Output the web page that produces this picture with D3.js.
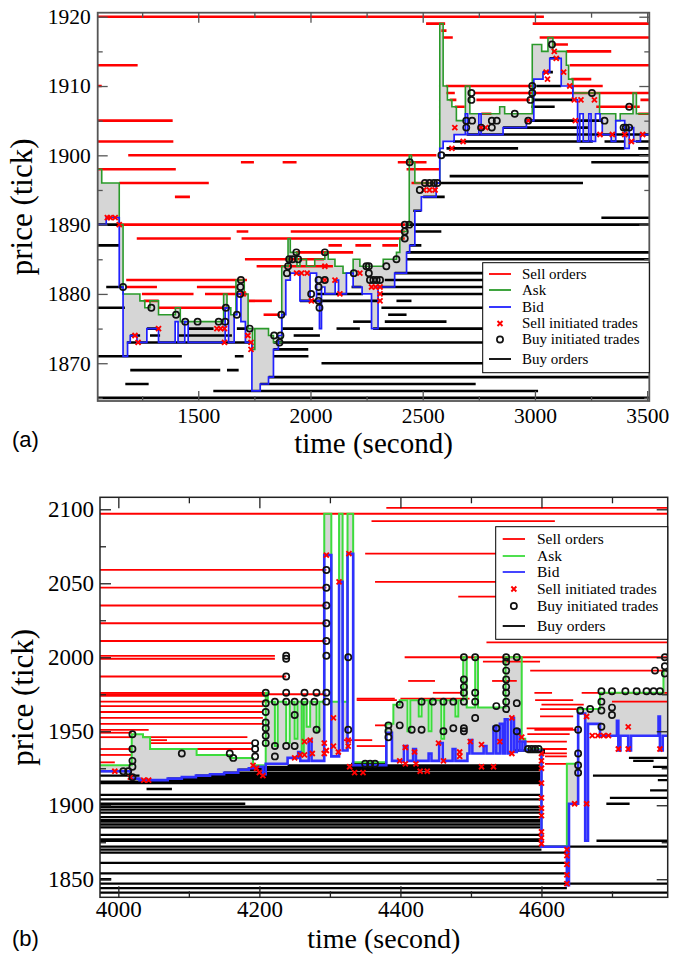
<!DOCTYPE html>
<html>
<head>
<meta charset="utf-8">
<script src="https://cdn.jsdelivr.net/npm/d3@7"></script>
<style>
  body { margin: 0; background: #fff; }
  svg { display: block; }
</style>
</head>
<body>
<svg id="chart" width="685" height="954"></svg>
<script>
// ---------- panel (a) data : [t0, t1, price] for orders, [t, price] for steps / trades ----------
const sellOrdersA = [
  [1052, 3040, 1920], [2990, 3510, 1919], [2515, 2600, 1919], [2583, 2606, 1918], [3021, 3510, 1917],
  [2590, 2634, 1917], [3080, 3147, 1916], [3140, 3340, 1915], [1052, 1230, 1913], [3155, 3510, 1913],
  [3162, 3251, 1911], [1052, 1070, 1910], [2603, 2990, 1910], [3168, 3302, 1910], [2606, 2643, 1909],
  [2732, 3510, 1909], [2620, 2650, 1908], [2739, 2977, 1908], [3470, 3510, 1908], [2643, 2687, 1907],
  [3273, 3467, 1907], [2761, 2806, 1906], [3460, 3510, 1906], [1052, 1386, 1905], [1052, 1389, 1902],
  [1188, 2561, 1900], [1690, 1748, 1899], [1876, 1938, 1899], [2389, 2517, 1899], [1052, 1400, 1898],
  [2428, 2576, 1898], [1148, 1547, 1896], [2450, 2567, 1896], [1396, 1463, 1894], [1151, 2421, 1890],
  [1671, 1723, 1889], [1912, 2420, 1889], [1226, 1645, 1888], [1693, 2420, 1888], [2080, 2140, 1887],
  [2200, 2270, 1887], [2320, 2390, 1887], [1935, 2190, 1886], [1708, 2060, 1885], [1760, 2100, 1884],
  [1179, 1717, 1882], [1178, 1316, 1881], [1494, 1672, 1881], [1249, 1479, 1880], [1530, 1717, 1880],
  [1257, 1324, 1879], [1724, 1828, 1879], [1323, 1628, 1878], [1791, 1864, 1877]
];
const buyOrdersA = [
  [1052, 3510, 1865], [1567, 3014, 1866], [1175, 1279, 1867], [1776, 2736, 1867], [1813, 3510, 1868],
  [1197, 1598, 1869], [1628, 1680, 1869], [2049, 3510, 1870], [1052, 1427, 1871], [1663, 1702, 1871],
  [1835, 1991, 1871], [1835, 1990, 1872], [1182, 1731, 1873], [1835, 3510, 1873], [1197, 1241, 1874],
  [1285, 1330, 1874], [1412, 1650, 1874], [1925, 2042, 1874], [1272, 1330, 1875], [1457, 1568, 1875],
  [1672, 1709, 1875], [1872, 2012, 1875], [2116, 2220, 1875], [2279, 3510, 1875], [2190, 2272, 1876],
  [2331, 2606, 1876], [2346, 2428, 1877], [1052, 1173, 1878], [2316, 3510, 1878], [1953, 2301, 1879],
  [2383, 2450, 1879], [2027, 2234, 1880], [2316, 3510, 1880], [1090, 1168, 1881], [2183, 2227, 1881],
  [2316, 3510, 1881], [2331, 3510, 1882], [2375, 3510, 1883], [2428, 3510, 1885], [2428, 3510, 1886],
  [1052, 1148, 1887], [2442, 2494, 1887], [1052, 1148, 1890], [2435, 3510, 1890], [2465, 2583, 1889],
  [3296, 3510, 1891], [2458, 2494, 1892], [2502, 2598, 1894], [2576, 3214, 1896], [2620, 3510, 1897],
  [3251, 3510, 1899], [2591, 3510, 1900], [2606, 2925, 1901], [3199, 3399, 1901], [3460, 3510, 1901],
  [2635, 3258, 1902], [3310, 3399, 1902], [3450, 3510, 1902], [2695, 3510, 1903], [2858, 3236, 1904],
  [2962, 3303, 1905], [2984, 3088, 1907], [2991, 3169, 1908], [3006, 3117, 1910], [3036, 3080, 1912],
  [3066, 3110, 1914]
];
const askA = [
  [1052, 1898], [1070, 1896], [1148, 1890], [1165, 1880], [1240, 1879], [1262, 1878], [1285, 1879],
  [1323, 1877], [1398, 1878], [1420, 1876], [1613, 1880], [1628, 1878], [1645, 1877], [1668, 1882],
  [1705, 1880], [1722, 1875], [1742, 1872], [1752, 1875], [1813, 1874], [1835, 1873], [1872, 1884],
  [1900, 1888], [1910, 1886], [1940, 1884], [1953, 1885], [1982, 1884], [2019, 1885], [2064, 1886],
  [2079, 1885], [2109, 1884], [2145, 1883], [2190, 1885], [2220, 1884], [2324, 1885], [2383, 1886],
  [2398, 1888], [2410, 1889], [2428, 1890], [2440, 1900], [2450, 1899], [2465, 1896], [2576, 1919],
  [2591, 1910], [2610, 1908], [2630, 1907], [2650, 1905], [2690, 1910], [2710, 1906], [2843, 1907],
  [2865, 1906], [2988, 1916], [3030, 1915], [3058, 1917], [3080, 1915], [3140, 1913], [3150, 1911],
  [3169, 1909], [3288, 1906], [3360, 1905], [3380, 1906], [3437, 1909], [3452, 1906], [3510, 1906]
];
const bidA = [
  [1052, 1890], [1090, 1891], [1148, 1881], [1165, 1871], [1185, 1873], [1197, 1874], [1227, 1873],
  [1271, 1875], [1323, 1873], [1397, 1876], [1410, 1873], [1440, 1876], [1455, 1873], [1620, 1878],
  [1635, 1873], [1660, 1877], [1672, 1880], [1690, 1876], [1710, 1873], [1739, 1866], [1776, 1867],
  [1813, 1868], [1835, 1872], [1857, 1874], [1872, 1877], [1890, 1882], [1910, 1883], [1953, 1879],
  [1998, 1883], [2027, 1879], [2040, 1875], [2049, 1881], [2064, 1880], [2110, 1882], [2125, 1880],
  [2160, 1883], [2190, 1881], [2230, 1880], [2272, 1875], [2301, 1881], [2375, 1883], [2428, 1886],
  [2442, 1887], [2465, 1892], [2494, 1894], [2560, 1896], [2576, 1901], [2591, 1902], [2640, 1903],
  [2690, 1906], [2700, 1903], [2750, 1906], [2760, 1903], [2858, 1904], [2962, 1905], [2995, 1911],
  [3036, 1912], [3066, 1914], [3117, 1910], [3169, 1908], [3190, 1902], [3200, 1906], [3215, 1902],
  [3240, 1906], [3250, 1902], [3270, 1906], [3290, 1905], [3300, 1903], [3340, 1902], [3360, 1905],
  [3400, 1901], [3420, 1904], [3440, 1902], [3470, 1903], [3510, 1903]
];
const buyTradesA = [
  [1165, 1881], [1291, 1878], [1401, 1877], [1442, 1876], [1497, 1876], [1591, 1876], [1620, 1876],
  [1623, 1878], [1672, 1877], [1687, 1880], [1688, 1881], [1690, 1882], [1729, 1875], [1838, 1874],
  [1862, 1873], [1866, 1874], [1870, 1877], [1895, 1883], [1900, 1884], [1905, 1885], [1920, 1885],
  [1937, 1886], [1945, 1885], [2003, 1880], [2036, 1881], [2036, 1882], [2036, 1879], [2040, 1878],
  [2064, 1886], [2064, 1882], [2193, 1883], [2249, 1884], [2260, 1884], [2260, 1883], [2265, 1882],
  [2280, 1882], [2295, 1882], [2310, 1882], [2338, 1884], [2383, 1885], [2420, 1888], [2420, 1889],
  [2420, 1890], [2440, 1890], [2442, 1899], [2487, 1895], [2510, 1896], [2530, 1896], [2550, 1896],
  [2565, 1896], [2583, 1900], [2694, 1905], [2694, 1904], [2717, 1909], [2717, 1908], [2720, 1905],
  [2760, 1904], [2808, 1905], [2808, 1904], [2830, 1905], [2910, 1906], [2970, 1905], [2988, 1910],
  [2988, 1909], [2980, 1908], [3076, 1916], [3254, 1909], [3310, 1905], [3395, 1904], [3405, 1904],
  [3420, 1907], [3420, 1904]
];
const sellTradesA = [
  [1095, 1891], [1108, 1891], [1130, 1891], [1148, 1890], [1218, 1874], [1232, 1873], [1323, 1875],
  [1583, 1875], [1600, 1875], [1617, 1875], [1617, 1873], [1700, 1880], [1721, 1874], [1735, 1873],
  [1735, 1872], [1938, 1883], [1960, 1883], [1985, 1883], [2004, 1879], [2064, 1884], [2064, 1882],
  [2109, 1882], [2131, 1880], [2220, 1883], [2272, 1881], [2290, 1881], [2310, 1881], [2310, 1880],
  [2310, 1879], [2505, 1895], [2530, 1895], [2555, 1895], [2630, 1901], [2643, 1904], [2680, 1902],
  [2760, 1904], [2780, 1904], [2970, 1905], [3056, 1911], [3050, 1912], [3086, 1915], [3095, 1914],
  [3128, 1912], [3155, 1910], [3175, 1908], [3205, 1908], [3265, 1908], [3180, 1905], [3290, 1903],
  [3345, 1903], [3400, 1903], [3430, 1902], [3480, 1903]
];
const xTicksA = [1500, 2000, 2500, 3000, 3500];
const xMinorA = [1250, 1750, 2250, 2750, 3250];
const yTicksA = [1870, 1880, 1890, 1900, 1910, 1920];
const yMinorA = [1865, 1875, 1885, 1895, 1905, 1915];

// ---------- panel (b) data ----------
const sellOrdersB = [
  [3974, 4780, 2097], [4380, 4780, 2101], [4359, 4619, 2092], [4350, 4780, 2070], [3974, 4295, 2059],
  [4364, 4780, 2051], [3974, 4295, 2047], [4482, 4780, 2041], [3974, 4295, 2035], [3974, 4295, 2023],
  [3974, 4295, 2011], [4522, 4780, 2010], [3974, 4222, 2001], [4406, 4780, 2000], [3974, 4222, 1999],
  [4517, 4598, 1997], [4584, 4780, 1991], [3974, 4238, 1987], [4411, 4449, 1984], [4530, 4565, 1984],
  [3974, 4208, 1976], [4446, 4489, 1976], [4590, 4615, 1976], [4657, 4780, 1976], [3974, 4295, 1975],
  [3974, 4208, 1974], [4338, 4392, 1972], [4400, 4498, 1972], [3974, 4210, 1970], [4338, 4395, 1971],
  [4591, 4645, 1971], [4700, 4780, 1970], [4600, 4660, 1968], [3974, 4205, 1967], [4598, 4650, 1965],
  [3974, 4205, 1963], [4598, 4645, 1960], [3974, 4205, 1959], [3974, 4205, 1955], [4364, 4380, 1954],
  [4579, 4645, 1952], [3974, 4043, 1951], [4590, 4650, 1951], [3974, 4019, 1949], [4580, 4640, 1948],
  [3974, 4019, 1946], [4035, 4183, 1946], [4045, 4069, 1944], [4320, 4360, 1944], [4565, 4636, 1943],
  [4045, 4191, 1942], [4338, 4380, 1940], [3974, 4019, 1938], [4111, 4191, 1938], [4580, 4636, 1938],
  [4600, 4636, 1935], [3974, 4019, 1934], [4605, 4636, 1933], [3974, 3995, 1929], [4605, 4636, 1928]
];
const buyOrdersB = [
  [3974, 4780, 1841], [3974, 4636, 1844], [3974, 4780, 1847], [3974, 3990, 1850], [3974, 4636, 1854],
  [3974, 4636, 1861], [3974, 4636, 1868], [3974, 4600, 1870], [3974, 4780, 1872], [3974, 4598, 1876],
  [4678, 4780, 1876], [3974, 4598, 1877], [3974, 4598, 1880], [3974, 4598, 1885], [3974, 4598, 1887],
  [3974, 4598, 1889], [3974, 4598, 1890], [3974, 4598, 1892], [3974, 4598, 1895], [3974, 4598, 1897],
  [3974, 4598, 1899], [3974, 4180, 1901], [4692, 4725, 1901], [3974, 4598, 1904], [4697, 4780, 1905],
  [3974, 4598, 1907], [4040, 4076, 1911], [4754, 4780, 1910], [3974, 4598, 1915], [3974, 4598, 1916],
  [4043, 4598, 1917], [4765, 4780, 1917], [4070, 4598, 1918], [4090, 4598, 1919], [3974, 4030, 1920],
  [4110, 4598, 1920], [4673, 4780, 1920], [4130, 4598, 1921], [4150, 4598, 1922], [3974, 4017, 1923],
  [4170, 4598, 1924], [4185, 4598, 1925], [4195, 4598, 1926], [4758, 4780, 1926], [4240, 4598, 1927],
  [4330, 4380, 1928], [4730, 4759, 1930], [4724, 4780, 1932], [4580, 4605, 1936], [4560, 4605, 1937]
];
const askB = [
  [3974, 1927], [4019, 1948], [4035, 1946], [4045, 1938], [4111, 1934], [4158, 1932], [4191, 1927],
  [4209, 1976], [4212, 1970], [4222, 1940], [4226, 1970], [4238, 1942], [4243, 1970], [4250, 1945],
  [4254, 1970], [4260, 1935], [4263, 1970], [4267, 1953], [4272, 1970], [4281, 1950], [4285, 1970],
  [4292, 2097], [4302, 1970], [4313, 2097], [4318, 1970], [4325, 2097], [4333, 1929], [4380, 1955],
  [4390, 1968], [4399, 1971], [4410, 1950], [4414, 1971], [4426, 1960], [4430, 1971], [4440, 1950],
  [4444, 1971], [4458, 1945], [4462, 1971], [4478, 1960], [4482, 1971], [4489, 2000], [4494, 1966],
  [4506, 2000], [4510, 1966], [4549, 2000], [4572, 1945], [4577, 1938], [4600, 1872], [4636, 1928],
  [4652, 1965], [4683, 1976], [4773, 1991], [4780, 1991]
];
const bidB = [
  [3974, 1923], [4017, 1918], [4030, 1917], [4070, 1918], [4090, 1919], [4110, 1920], [4130, 1921],
  [4150, 1922], [4170, 1924], [4185, 1925], [4195, 1926], [4205, 1921], [4209, 1928], [4240, 1932],
  [4255, 1936], [4258, 1930], [4270, 1944], [4274, 1930], [4292, 2069], [4302, 1933], [4313, 2051],
  [4318, 1937], [4325, 2070], [4333, 1927], [4380, 1949], [4388, 1930], [4405, 1940], [4410, 1930],
  [4418, 1938], [4422, 1930], [4440, 1935], [4444, 1930], [4455, 1942], [4460, 1930], [4474, 1938],
  [4478, 1930], [4495, 1935], [4498, 1944], [4502, 1935], [4518, 1940], [4522, 1935], [4532, 1953],
  [4536, 1935], [4541, 1955], [4545, 1935], [4548, 1958], [4552, 1935], [4557, 1959], [4561, 1936],
  [4565, 1951], [4569, 1937], [4573, 1943], [4577, 1937], [4600, 1872], [4636, 1846], [4639, 1901],
  [4652, 1962], [4662, 1876], [4666, 1955], [4683, 1947], [4707, 1957], [4709, 1937], [4712, 1947],
  [4723, 1937], [4727, 1947], [4766, 1960], [4768, 1937], [4772, 1947], [4780, 1947]
];
const buyTradesB = [
  [4007, 1923], [4014, 1923], [4020, 1919], [4020, 1948], [4020, 1938], [4020, 1930], [4020, 1926],
  [4090, 1935], [4158, 1935], [4163, 1932], [4194, 1942], [4194, 1938], [4194, 1933], [4209, 1976],
  [4209, 1969], [4209, 1963], [4209, 1956], [4209, 1952], [4209, 1947], [4209, 1942], [4222, 1970],
  [4222, 1940], [4222, 1933], [4238, 2001], [4238, 1999], [4238, 1987], [4238, 1976], [4238, 1970],
  [4238, 1940], [4250, 1970], [4250, 1961], [4250, 1940], [4264, 1976], [4264, 1970], [4278, 1970],
  [4281, 1976], [4281, 1951], [4295, 2059], [4295, 2047], [4295, 2035], [4295, 2023], [4295, 2011],
  [4295, 2001], [4295, 1976], [4295, 1970], [4326, 2000], [4326, 1951], [4350, 1928], [4357, 1928],
  [4364, 1928], [4383, 1954], [4383, 1950], [4383, 1946], [4399, 1968], [4399, 1954], [4416, 1951],
  [4430, 1970], [4430, 1951], [4446, 1970], [4461, 1970], [4461, 1950], [4475, 1970], [4475, 1952],
  [4490, 2000], [4490, 1985], [4490, 1980], [4490, 1976], [4490, 1970], [4490, 1952], [4490, 1950],
  [4506, 2000], [4506, 1976], [4506, 1970], [4506, 1959], [4536, 1967], [4536, 1952], [4550, 2000],
  [4550, 1997], [4550, 1991], [4550, 1985], [4550, 1980], [4550, 1976], [4550, 1970], [4550, 1965],
  [4565, 2000], [4565, 1969], [4565, 1950], [4581, 1938], [4586, 1938], [4591, 1938], [4596, 1938],
  [4652, 1951], [4652, 1935], [4652, 1927], [4652, 1922], [4655, 1964], [4669, 1965], [4685, 1977],
  [4685, 1970], [4685, 1964], [4685, 1953], [4700, 1977], [4700, 1966], [4700, 1961], [4719, 1977],
  [4735, 1977], [4749, 1977], [4759, 1977], [4768, 1977], [4761, 1991], [4775, 2000], [4775, 1994],
  [4775, 1989]
];
const sellTradesB = [
  [3995, 1923], [4017, 1919], [4036, 1917], [4043, 1917], [4191, 1927], [4196, 1925], [4200, 1922],
  [4205, 1920], [4250, 1932], [4258, 1934], [4264, 1943], [4264, 1934], [4272, 1944], [4275, 1935],
  [4292, 1942], [4292, 1935], [4295, 2069], [4295, 1937], [4305, 1959], [4305, 1940], [4313, 2051],
  [4312, 1936], [4327, 2070], [4326, 1944], [4326, 1940], [4328, 1926], [4335, 1922], [4347, 1922],
  [4399, 1930], [4407, 1939], [4407, 1928], [4420, 1936], [4422, 1928], [4428, 1923], [4438, 1923],
  [4454, 1942], [4461, 1930], [4484, 1933], [4484, 1936], [4499, 1943], [4515, 1941], [4515, 1926],
  [4532, 1926], [4541, 1943], [4558, 1959], [4558, 1935], [4572, 1946], [4600, 1935], [4600, 1930],
  [4600, 1925], [4600, 1915], [4600, 1905], [4600, 1898], [4600, 1893], [4600, 1882], [4600, 1878],
  [4600, 1874], [4636, 1870], [4636, 1866], [4636, 1860], [4636, 1853], [4636, 1847], [4647, 1901],
  [4664, 1901], [4664, 1960], [4672, 1947], [4680, 1947], [4688, 1947], [4695, 1947], [4709, 1938],
  [4723, 1938], [4723, 1953], [4768, 1938]
];
const xTicksB = [4000, 4200, 4400, 4600];
const xMinorB = [4100, 4300, 4500, 4700];
const yTicksB = [1850, 1900, 1950, 2000, 2050, 2100];
const yMinorB = [1875, 1925, 1975, 2025, 2075];

const legendLabels = ['Sell orders', 'Ask', 'Bid', 'Sell initiated trades', 'Buy initiated trades', 'Buy orders'];
const legendKinds = ['sell', 'ask', 'bid', 'sellTrade', 'buyTrade', 'buy'];

const svg = d3.select('#chart');
const serif = '"Liberation Serif", "Times New Roman", serif';
const xMark = s => `M${-s},${-s}L${s},${s}M${-s},${s}L${s},${-s}`;

function drawPanel(cfg) {
  const x = d3.scaleLinear().domain(cfg.xDomain).range([cfg.left, cfg.right]);
  const y = d3.scaleLinear().domain(cfg.yDomain).range([cfg.bottom, cfg.top]);
  const root = svg.append('g');

  root.append('clipPath').attr('id', cfg.id + '-clip').append('rect')
    .attr('x', cfg.left).attr('y', cfg.top)
    .attr('width', cfg.right - cfg.left).attr('height', cfg.bottom - cfg.top);
  const plot = root.append('g').attr('clip-path', `url(#${cfg.id}-clip)`);

  // spread between ask and bid, on the union of their change times
  const stepAt = (series, t) => {
    let v = series[0][1];
    for (const d of series) { if (d[0] <= t) v = d[1]; else break; }
    return v;
  };
  const times = Array.from(new Set(cfg.ask.map(d => d[0]).concat(cfg.bid.map(d => d[0])))).sort((a, b) => a - b);
  const spread = times.map(t => ({ t, ask: stepAt(cfg.ask, t), bid: stepAt(cfg.bid, t) }));
  plot.append('path').datum(spread)
    .attr('fill', '#d6d6d6')
    .attr('d', d3.area().curve(d3.curveStepAfter).x(d => x(d.t)).y0(d => y(d.bid)).y1(d => y(d.ask)));

  const drawOrders = (data, color, width) => plot.append('g').selectAll('line').data(data).join('line')
    .attr('x1', d => x(d[0])).attr('x2', d => x(d[1]))
    .attr('y1', d => y(d[2])).attr('y2', d => y(d[2]))
    .attr('stroke', color).attr('stroke-width', width);
  drawOrders(cfg.sellOrders, '#ff0000', cfg.sellWidth);
  drawOrders(cfg.buyOrders, '#000000', cfg.buyWidth);

  const step = d3.line().curve(d3.curveStepAfter).x(d => x(d[0])).y(d => y(d[1]));
  plot.append('path').datum(cfg.ask).attr('fill', 'none')
    .attr('stroke', cfg.askColor).attr('stroke-width', cfg.askWidth).attr('d', step);
  plot.append('path').datum(cfg.bid).attr('fill', 'none')
    .attr('stroke', cfg.bidColor).attr('stroke-width', cfg.bidWidth).attr('d', step);

  plot.append('g').selectAll('path').data(cfg.sellTrades).join('path')
    .attr('transform', d => `translate(${x(d[0])},${y(d[1])})`)
    .attr('d', xMark(2.5)).attr('fill', 'none').attr('stroke', '#ff0000').attr('stroke-width', 1.9);
  plot.append('g').selectAll('circle').data(cfg.buyTrades).join('circle')
    .attr('cx', d => x(d[0])).attr('cy', d => y(d[1])).attr('r', 3.1)
    .attr('fill', 'none').attr('stroke', '#111').attr('stroke-width', 1.7);

  // axes, ticks pointing inward on all four sides
  const style = g => {
    g.select('.domain').remove();
    g.selectAll('line').attr('stroke', cfg.frameColor).attr('stroke-width', 1.3);
    g.selectAll('text').attr('font-family', serif).attr('font-size', cfg.tickFont).attr('fill', '#000');
  };
  const fmt = d3.format('d');
  root.append('g').attr('transform', `translate(0,${cfg.bottom})`)
    .call(d3.axisBottom(x).tickValues(cfg.xTicks).tickFormat(fmt).tickSize(-cfg.major).tickPadding(cfg.xPad)).call(style);
  root.append('g').attr('transform', `translate(0,${cfg.bottom})`)
    .call(d3.axisBottom(x).tickValues(cfg.xMinor).tickFormat('').tickSize(-cfg.minor)).call(style);
  root.append('g').attr('transform', `translate(0,${cfg.top})`)
    .call(d3.axisTop(x).tickValues(cfg.xTicks).tickFormat('').tickSize(-cfg.major)).call(style);
  root.append('g').attr('transform', `translate(0,${cfg.top})`)
    .call(d3.axisTop(x).tickValues(cfg.xMinor).tickFormat('').tickSize(-cfg.minor)).call(style);
  root.append('g').attr('transform', `translate(${cfg.left},0)`)
    .call(d3.axisLeft(y).tickValues(cfg.yTicks).tickFormat(fmt).tickSize(-cfg.major).tickPadding(cfg.yPad)).call(style);
  root.append('g').attr('transform', `translate(${cfg.left},0)`)
    .call(d3.axisLeft(y).tickValues(cfg.yMinor).tickFormat('').tickSize(-cfg.minor)).call(style);
  root.append('g').attr('transform', `translate(${cfg.right},0)`)
    .call(d3.axisRight(y).tickValues(cfg.yTicks).tickFormat('').tickSize(-cfg.major)).call(style);
  root.append('g').attr('transform', `translate(${cfg.right},0)`)
    .call(d3.axisRight(y).tickValues(cfg.yMinor).tickFormat('').tickSize(-cfg.minor)).call(style);

  root.append('rect')
    .attr('x', cfg.left).attr('y', cfg.top)
    .attr('width', cfg.right - cfg.left).attr('height', cfg.bottom - cfg.top)
    .attr('fill', 'none').attr('stroke', cfg.frameColor).attr('stroke-width', cfg.frameWidth);

  // axis titles and panel label
  root.append('text').text('time (second)')
    .attr('x', (cfg.left + cfg.right) / 2).attr('y', cfg.xTitleY)
    .attr('text-anchor', 'middle').attr('font-family', serif).attr('font-size', cfg.xTitleFont);
  root.append('text').text('price (tick)')
    .attr('transform', `translate(${cfg.yTitleX},${(cfg.top + cfg.bottom) / 2}) rotate(-90)`)
    .attr('text-anchor', 'middle').attr('font-family', serif).attr('font-size', 31);
  root.append('text').text(cfg.label)
    .attr('x', 12).attr('y', cfg.labelY)
    .attr('font-family', '"Liberation Sans", Arial, sans-serif').attr('font-size', 22);

  // legend
  const lg = cfg.legend;
  const leg = root.append('g');
  leg.append('rect').attr('x', lg.x).attr('y', lg.y).attr('width', lg.w).attr('height', lg.h)
    .attr('fill', '#fff').attr('stroke', '#000').attr('stroke-width', 1);
  legendLabels.forEach((label, i) => {
    const ry = lg.rows[i];
    const kind = legendKinds[i];
    const mid = (lg.x0 + lg.x1) / 2;
    if (kind === 'sellTrade') {
      leg.append('path').attr('transform', `translate(${mid},${ry})`).attr('d', xMark(2.5))
        .attr('stroke', '#ff0000').attr('stroke-width', 1.9).attr('fill', 'none');
    } else if (kind === 'buyTrade') {
      leg.append('circle').attr('cx', mid).attr('cy', ry).attr('r', 3.1)
        .attr('fill', 'none').attr('stroke', '#111').attr('stroke-width', 1.7);
    } else {
      const color = { sell: '#ff0000', ask: cfg.askColor, bid: cfg.bidColor, buy: '#000' }[kind];
      leg.append('line').attr('x1', lg.x0).attr('x2', lg.x1).attr('y1', ry).attr('y2', ry)
        .attr('stroke', color).attr('stroke-width', 1.8);
    }
    leg.append('text').text(label).attr('x', lg.tx).attr('y', ry).attr('dy', '0.33em')
      .attr('font-family', serif).attr('font-size', lg.font);
  });
}

drawPanel({
  id: 'a', label: '(a)',
  left: 97.7, right: 649.3, top: 12.7, bottom: 401,
  xDomain: [1052, 3509.5], yDomain: [1864.55, 1920.58],
  sellOrders: sellOrdersA, buyOrders: buyOrdersA, ask: askA, bid: bidA,
  sellTrades: sellTradesA, buyTrades: buyTradesA,
  xTicks: xTicksA, xMinor: xMinorA, yTicks: yTicksA, yMinor: yMinorA,
  sellWidth: 2.6, buyWidth: 2.6, askColor: '#2a9a2a', askWidth: 1.6, bidColor: '#2020ff', bidWidth: 1.7,
  frameColor: '#555', frameWidth: 1.8, major: 10, minor: 5, tickFont: 21.5, xPad: 7, yPad: 7,
  xTitleY: 453, xTitleFont: 29, yTitleX: 31.5, labelY: 447,
  legend: { x: 482.7, y: 262.7, w: 166.6, h: 110, rows: [274, 290, 307, 323.5, 339.5, 359],
            x0: 489, x1: 511, tx: 522, font: 15 }
});

drawPanel({
  id: 'b', label: '(b)',
  left: 100, right: 667.7, top: 497.3, bottom: 897.3,
  xDomain: [3974, 4779], yDomain: [1837.8, 2108.1],
  sellOrders: sellOrdersB, buyOrders: buyOrdersB, ask: askB, bid: bidB,
  sellTrades: sellTradesB, buyTrades: buyTradesB,
  xTicks: xTicksB, xMinor: xMinorB, yTicks: yTicksB, yMinor: yMinorB,
  sellWidth: 1.8, buyWidth: 2.3, askColor: '#3cdc3c', askWidth: 2, bidColor: '#3030ff', bidWidth: 2.6,
  frameColor: '#222', frameWidth: 1.5, major: 11, minor: 6, tickFont: 23, xPad: 3, yPad: 6,
  xTitleY: 948, xTitleFont: 28, yTitleX: 33, labelY: 946,
  legend: { x: 495.7, y: 526.7, w: 172, h: 112.6, rows: [539, 556, 572, 589, 606, 626],
            x0: 502.7, x1: 525, tx: 537, font: 15.5 }
});
</script>
</body>
</html>
